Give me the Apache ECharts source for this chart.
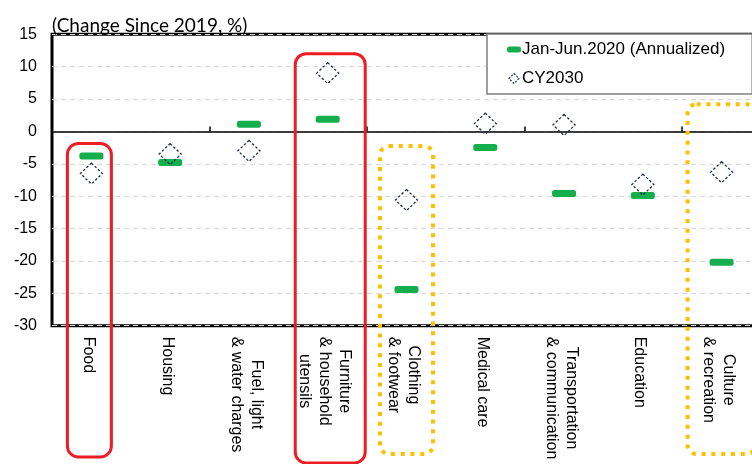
<!DOCTYPE html>
<html>
<head>
<meta charset="utf-8">
<script src="https://cdn.jsdelivr.net/npm/echarts@6/dist/echarts.min.js"></script>
<style>
  html, body { margin: 0; padding: 0; background: #ffffff; }
  #chart { width: 752px; height: 464px; }
</style>
</head>
<body>
<div id="chart"></div>
<script>
// Spending categories (line breaks are the label wraps)
const categories = [
  'Food',
  'Housing',
  'Fuel, light\n& water charges',
  'Furniture\n& household\nutensils',
  'Clothing\n& footwear',
  'Medical care',
  'Transportation\n& communication',
  'Education',
  'Culture\n& recreation'
];

// Change since 2019, %
const janJun2020 = [-3.8, -4.8, 1.1, 1.9, -24.4, -2.5, -9.6, -9.9, -20.2];
const cy2030 = [-6.5, -3.5, -3.0, 9.0, -10.6, 1.2, 1.0, -8.2, -6.3];

const seriesNames = ['Jan-Jun.2020 (Annualized)', 'CY2030'];
const axisTitle = '(Change Since 2019, %)';
const yMin = -30, yMax = 15, yStep = 5;

// Highlight frames drawn around some categories
const highlights = [
  { category: 'Food', kind: 'red', dx: -2, width: 44, top: 143.5, bottom: 457 },
  { category: 'Furniture\n& household\nutensils', kind: 'red', dx: 2.5, width: 70, top: 53.7, bottom: 463 },
  { category: 'Clothing\n& footwear', kind: 'yellow', dx: 0, width: 53, top: 146, bottom: 454 },
  { category: 'Culture\n& recreation', kind: 'yellow', dx: 0, width: 68, top: 104.3, bottom: 454 }
];

const FONT = '"Liberation Sans", Arial, sans-serif';
const GREEN = '#14AE4C';
const NAVY = '#1F2D55';

const barPath = 'path://M2.5,0 H21.5 Q24,0 24,2.5 V4.5 Q24,7 21.5,7 H2.5 Q0,7 0,4.5 V2.5 Q0,0 2.5,0 Z';
const legendBarPath = 'path://M2.5,0 H11.5 Q14,0 14,2.5 V3.5 Q14,6 11.5,6 H2.5 Q0,6 0,3.5 V2.5 Q0,0 2.5,0 Z';
const legendDiamondPath = 'path://M5,0 L10,5 L5,10 L0,5 Z';

const chart = echarts.init(document.getElementById('chart'), null, { renderer: 'canvas' });

chart.setOption({
  animation: false,
  backgroundColor: '#ffffff',
  grid: {
    left: 52,
    top: 34.3,
    width: 709,
    bottom: 138.3,
    outerBoundsMode: 'none',
    containLabel: false,
    show: true,
    borderColor: '#000000',
    borderWidth: 3,
    backgroundColor: 'transparent'
  },
  legend: {
    orient: 'vertical',
    left: 487,
    top: 34,
    padding: [7, 27, 7, 20],
    itemGap: 12,
    itemWidth: 14,
    itemHeight: 10,
    backgroundColor: '#ffffff',
    borderColor: '#7F7F7F',
    borderWidth: 1.5,
    textStyle: { fontFamily: FONT, fontSize: 17, color: '#000000', padding: [0, 0, 0, -4] },
    data: [
      { name: seriesNames[0], icon: legendBarPath, itemStyle: { color: GREEN, borderWidth: 0 } },
      { name: seriesNames[1], icon: legendDiamondPath,
        itemStyle: { color: 'rgba(255,255,255,0)', borderColor: NAVY, borderWidth: 1.2, borderType: [2, 1.5] } }
    ]
  },
  xAxis: [
    {
      type: 'category',
      data: categories,
      position: 'bottom',
      boundaryGap: true,
      axisLine: { show: false, onZero: false },
      axisTick: { show: false },
      splitLine: { show: false },
      axisLabel: {
        interval: 0,
        rotate: -90,
        margin: 11,
        padding: [6, 0, 0, 0],
        fontFamily: FONT,
        fontSize: 16,
        color: '#000000',
        formatter: function (v) {
          return v.split('\n').map(function (s) { return '{c|' + s + '}'; }).join('\n');
        },
        rich: {
          c: { align: 'center', fontFamily: FONT, fontSize: 16, lineHeight: 20, color: '#000000' }
        }
      }
    },
    {
      type: 'category',
      data: categories,
      position: 'bottom',
      boundaryGap: true,
      axisLine: { show: true, onZero: true, lineStyle: { color: '#000000', width: 1.5 } },
      axisTick: { show: true, inside: true, length: 5, lineStyle: { color: '#000000', width: 1.5 } },
      axisLabel: { show: false },
      splitLine: { show: false }
    }
  ],
  yAxis: {
    type: 'value',
    min: yMin,
    max: yMax,
    interval: yStep,
    axisLine: { show: false },
    axisTick: { show: false },
    axisLabel: { fontFamily: FONT, fontSize: 16, color: '#000000', margin: 15 },
    splitLine: { show: true, lineStyle: { color: '#D9D9D9', width: 1, type: [5, 4] } }
  },
  series: [
    {
      name: seriesNames[0],
      type: 'scatter',
      xAxisIndex: 0,
      data: janJun2020,
      symbol: barPath,
      symbolSize: [24, 7],
      itemStyle: { color: GREEN, opacity: 1 },
      z: 3
    },
    {
      name: seriesNames[1],
      type: 'scatter',
      xAxisIndex: 0,
      data: cy2030,
      symbol: 'diamond',
      symbolSize: [22, 21],
      itemStyle: { color: 'rgba(255,255,255,0)', borderColor: NAVY, borderWidth: 1.3, borderType: [2.5, 2], opacity: 1 },
      z: 4
    }
  ]
});

// Title above the value axis and the highlight frames
const frames = highlights.map(function (h) {
  const cx = chart.convertToPixel({ xAxisIndex: 0 }, h.category) + h.dx;
  const red = h.kind === 'red';
  return {
    type: 'rect',
    z: 50,
    silent: true,
    shape: { x: cx - h.width / 2, y: h.top, width: h.width, height: h.bottom - h.top, r: red ? 11 : 9 },
    style: red
      ? { fill: 'none', stroke: '#EE1D25', lineWidth: 3 }
      : { fill: 'none', stroke: '#FFC000', lineWidth: 4, lineDash: [4, 5.8] }
  };
});

chart.setOption({
  graphic: [
    {
      type: 'text',
      x: 52,
      y: 25.6,
      z: 60,
      silent: true,
      style: { text: axisTitle, font: '19px Lato', fill: '#000000', align: 'left', verticalAlign: 'middle' }
    }
  ].concat(frames)
});
</script>
</body>
</html>
